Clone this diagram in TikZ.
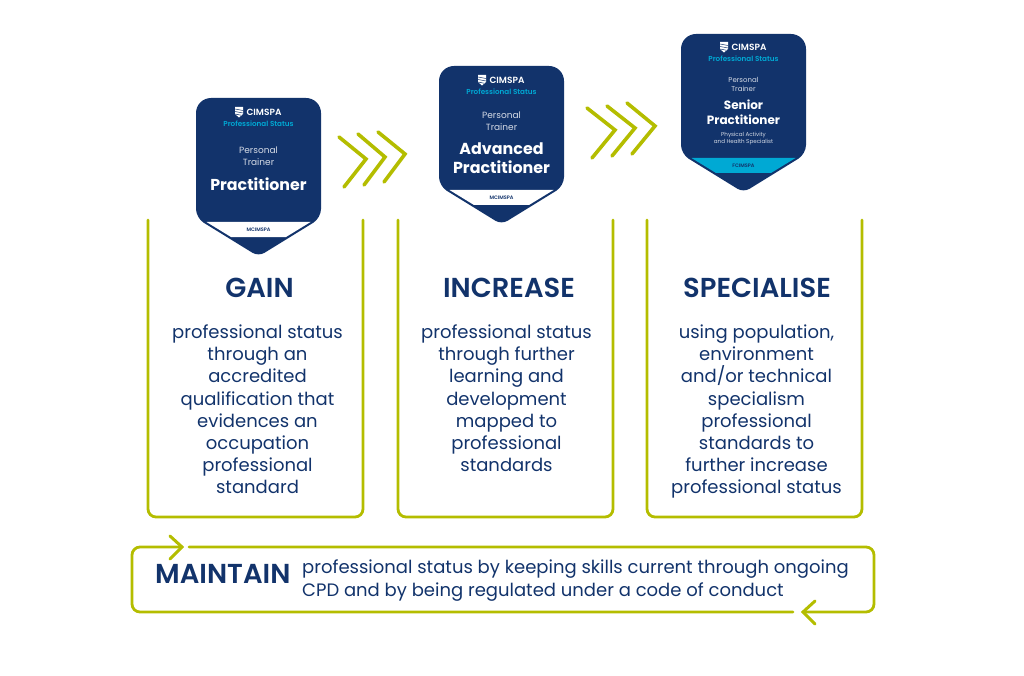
\documentclass[tikz,border=0pt]{standalone}
\usepackage{fontspec}
\setmainfont{Poppins}
\newfontfamily\popsemi{Poppins SemiBold}
\newfontfamily\popmed{Poppins Medium}
\definecolor{navy}{HTML}{12336B}
\definecolor{lime}{HTML}{B4BD00}
\definecolor{cyanb}{HTML}{00A9D4}
\definecolor{greyt}{HTML}{D5DBE6}
\tikzset{
  limeline/.style={draw=lime,line width=2.8pt,line cap=round,line join=round,rounded corners=8pt},
  chev/.style={draw=lime,line width=3.6pt,line cap=round,line join=miter},
  bodytxt/.style={text=navy,font=\fontsize{18}{22.1}\selectfont,align=center,inner sep=0pt},
  titletxt/.style={text=navy,font=\popsemi\fontsize{27.4}{30}\selectfont,inner sep=0pt},
  bt/.style={inner sep=0pt,align=center},
}
\newcommand{\shield}{[rounded corners=15pt] (0,60) -- (0,0) -- (125,0) -- (125,60) [rounded corners=9pt] -- (125,120) [rounded corners=7pt] -- (62.5,158.5) [rounded corners=9pt] -- (0,120) -- cycle}
\newcommand{\band}{(10.5,124) -- (114.5,124) -- (90,139) -- (35,139) -- cycle}
\newcommand{\crest}{
  \fill[white] (39,9) -- (47,9) -- (47,16) -- (43,19.5) -- (39,16) -- cycle;
  \draw[navy,line width=.5pt] (39,11) -- (47,12.5) (39,13.5) -- (47,15) (39,16) -- (45,17.2);
}
\begin{document}
\begin{tikzpicture}[x=1pt,y=-1pt]
\useasboundingbox (0,0) rectangle (1024,676);
% U boxes
\draw[limeline] (148,220) -- (148,517) -- (363,517) -- (363,220);
\draw[limeline] (398,220) -- (398,517) -- (613,517) -- (613,220);
\draw[limeline] (647,220) -- (647,517) -- (862,517) -- (862,220);
% badge 1
\begin{scope}[shift={(196,98)}]
\fill[navy] \shield;
\fill[white] \band;
\crest
\node[bt,text=white,font=\popsemi\fontsize{9}{10}\selectfont] (b1a) at (68,14) {CIMSPA};
\node[bt,text=cyanb,font=\popsemi\fontsize{7.2}{9}\selectfont] (b1b) at (62.5,25.5) {Professional Status};
\node[bt,text=greyt,font=\fontsize{9}{11.5}\selectfont] (b1c) at (62.5,58) {Personal\\Trainer};
\node[bt,text=white,font=\bfseries\fontsize{15.8}{18}\selectfont] (b1d) at (62.5,86) {Practitioner};
\node[bt,text=navy,font=\popsemi\fontsize{5}{6}\selectfont] (b1e) at (62.5,131.5) {MCIMSPA};
\end{scope}
% badge 2
\begin{scope}[shift={(439,66)}]
\fill[navy] \shield;
\fill[white] \band;
\crest
\node[bt,text=white,font=\popsemi\fontsize{9}{10}\selectfont] (b2a) at (68,14) {CIMSPA};
\node[bt,text=cyanb,font=\popsemi\fontsize{7.2}{9}\selectfont] (b2b) at (62.5,25.5) {Professional Status};
\node[bt,text=greyt,font=\fontsize{9}{12}\selectfont] (b2c) at (62.5,55) {Personal\\Trainer};
\node[bt,text=white,font=\bfseries\fontsize{15.9}{19.5}\selectfont] (b2d) at (62.5,92) {Advanced\\Practitioner};
\node[bt,text=navy,font=\popsemi\fontsize{5}{6}\selectfont] (b2e) at (62.5,131.5) {MCIMSPA};
\end{scope}
% badge 3
\begin{scope}[shift={(681,34)}]
\fill[navy] \shield;
\fill[cyanb] \band;
\begin{scope}[yshift=1pt]\crest\end{scope}
\node[bt,text=white,font=\popsemi\fontsize{9}{10}\selectfont] (b3a) at (68,13) {CIMSPA};
\node[bt,text=cyanb,font=\popsemi\fontsize{7.2}{9}\selectfont] (b3b) at (62.5,25) {Professional Status};
\node[bt,text=greyt,font=\fontsize{7}{9}\selectfont] (b3c) at (62.5,50) {Personal\\Trainer};
\node[bt,text=white,font=\bfseries\fontsize{12}{15}\selectfont] (b3d) at (62.5,78) {Senior\\Practitioner};
\node[bt,text=greyt,font=\fontsize{5.6}{7}\selectfont] (b3e) at (62.5,105) {Physical Activity\\and Health Specialist};
\node[bt,text=navy,font=\popsemi\fontsize{5}{6}\selectfont] (b3f) at (62.5,131.5) {FCIMSPA};
\end{scope}
% chevrons
\draw[chev] (339,137) -- (366,159) -- (344,187);
\draw[chev] (358,134) -- (385,157) -- (364,185);
\draw[chev] (378,132) -- (405,154) -- (384,182);
\draw[chev] (587,108) -- (615,130) -- (592,158);
\draw[chev] (607,106) -- (635,128) -- (612,156);
\draw[chev] (627,103) -- (655,126) -- (632,154);
% titles
\node[titletxt] (t1) at (259.5,288) {GAIN};
\node[titletxt] (t2) at (509,288) {INCREASE};
\node[titletxt] (t3) at (757,288) {SPECIALISE};
% bodies
\node[bt,bodytxt,anchor=north] (d1) at (257.5,324.8) {professional status\\through an\\accredited\\qualification that\\evidences an\\occupation\\professional\\standard};
\node[bt,bodytxt,anchor=north] (d2) at (506.5,324.8) {professional status\\through further\\learning and\\development\\mapped to\\professional\\standards};
\node[bt,bodytxt,anchor=north] (d3) at (756.5,324.8) {using population,\\environment\\and/or technical\\specialism\\professional\\standards to\\further increase\\professional status};
% maintain loop
\coordinate (ma) at (182,547);
\coordinate (mb) at (189,547);
\coordinate (mc) at (803,612);
\coordinate (md) at (793,612);
\draw[limeline] (ma) -- (132,547) -- (132,612) -- (md);
\draw[limeline] (mb) -- (874,547) -- (874,612) -- (mc);
\draw[chev,line width=3pt] (170,536) -- (ma) -- (170,559);
\draw[chev,line width=3pt] (815,601) -- (mc) -- (815,624);
\node[titletxt,anchor=west] (m1) at (155,574) {MAINTAIN};
\node[bt,bodytxt,anchor=west,align=left] (m2) at (302,580.5) {professional status by keeping skills current through ongoing\\CPD and by being regulated under a code of conduct};
\end{tikzpicture}
\end{document}
